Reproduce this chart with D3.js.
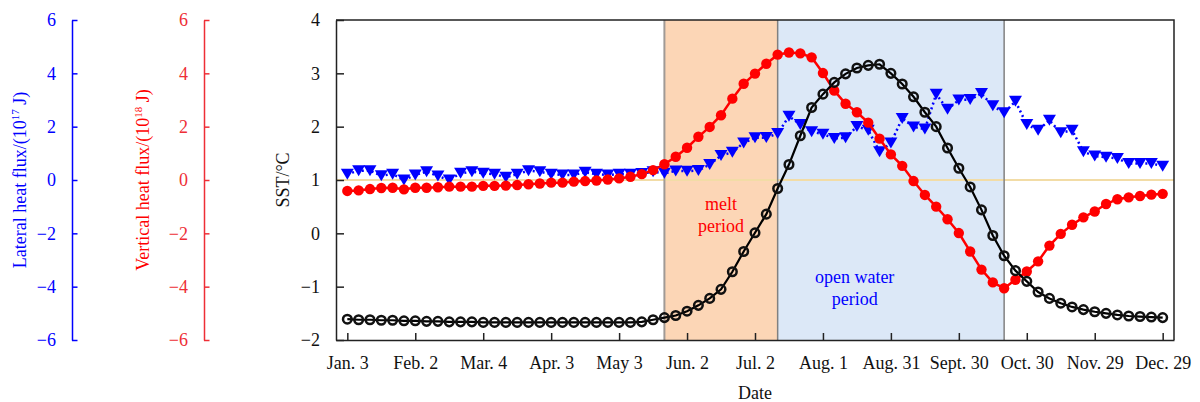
<!DOCTYPE html>
<html>
<head>
<meta charset="utf-8">
<script src="https://cdn.jsdelivr.net/npm/d3@7"></script>
<style>
  body { margin: 0; background: #fff; }
  svg { display: block; }
  text { font-family: "Liberation Serif", "Times New Roman", serif; }
</style>
</head>
<body>
<svg id="chart" width="1200" height="402"></svg>
<script>
// Five-day samples through the year (day of year)
const days = d3.range(3, 364, 5);

// Month tick positions (day of year) and their labels
const tickDays = [3, 33, 63, 93, 123, 153, 183, 213, 243, 273, 303, 333, 363];
const tickLabels = ["Jan. 3", "Feb. 2", "Mar. 4", "Apr. 3", "May 3", "Jun. 2", "Jul. 2",
                    "Aug. 1", "Aug. 31", "Sept. 30", "Oct. 30", "Nov. 29", "Dec. 29"];

// Axis tick values
const sstTicks = [-2, -1, 0, 1, 2, 3, 4];
const fluxTicks = [-6, -4, -2, 0, 2, 4, 6];

// Sea surface temperature, °C
const sst = [
  -1.61, -1.62, -1.62, -1.63, -1.63, -1.64, -1.64, -1.65, -1.65, -1.66,
  -1.66, -1.66, -1.67, -1.67, -1.67, -1.67, -1.67, -1.67, -1.67, -1.67,
  -1.67, -1.67, -1.67, -1.67, -1.67, -1.67, -1.66, -1.62, -1.58, -1.54,
  -1.46, -1.35, -1.22, -1.05, -0.72, -0.34, 0.01, 0.36, 0.84, 1.29,
  1.83, 2.36, 2.61, 2.83, 2.99, 3.10, 3.15, 3.17, 3.00, 2.80,
  2.56, 2.27, 2.00, 1.60, 1.22, 0.87, 0.44, -0.04, -0.42, -0.70,
  -0.90, -1.10, -1.22, -1.31, -1.38, -1.43, -1.47, -1.50, -1.53, -1.55,
  -1.56, -1.57, -1.58
];

// Vertical heat flux, 10^18 J
const verticalFlux = [
  -0.41, -0.39, -0.34, -0.30, -0.29, -0.35, -0.29, -0.29, -0.27, -0.25,
  -0.25, -0.25, -0.22, -0.22, -0.21, -0.19, -0.16, -0.13, -0.10, -0.10,
  -0.06, -0.04, -0.02, 0.02, 0.06, 0.12, 0.22, 0.37, 0.59, 0.87,
  1.21, 1.62, 1.99, 2.43, 3.05, 3.61, 3.99, 4.36, 4.70, 4.78,
  4.75, 4.60, 4.01, 3.35, 2.86, 2.54, 2.15, 1.55, 0.96, 0.53,
  -0.04, -0.56, -1.00, -1.47, -1.99, -2.68, -3.36, -3.84, -4.06, -3.74,
  -3.43, -3.05, -2.46, -2.02, -1.68, -1.40, -1.18, -0.90, -0.72, -0.65,
  -0.60, -0.55, -0.52
];

// Lateral heat flux, 10^17 J
const lateralFlux = [
  0.22, 0.35, 0.35, 0.16, 0.22, 0.00, 0.19, 0.31, 0.15, 0.00,
  0.25, 0.31, 0.25, 0.22, 0.10, 0.22, 0.35, 0.31, 0.22, 0.19,
  0.19, 0.29, 0.22, 0.19, 0.22, 0.22, 0.24, 0.31, 0.25, 0.34,
  0.33, 0.36, 0.58, 0.92, 1.04, 1.39, 1.58, 1.59, 1.74, 2.39,
  2.08, 1.81, 1.72, 1.56, 1.58, 2.01, 1.87, 1.06, 1.39, 2.31,
  1.99, 1.91, 3.22, 2.65, 3.00, 3.02, 3.24, 2.78, 2.52, 2.95,
  2.08, 1.87, 2.24, 1.77, 1.87, 1.06, 0.90, 0.85, 0.81, 0.62,
  0.62, 0.62, 0.52
];

// Period boundaries (day of year)
const meltPeriod = [143, 193];
const openWaterPeriod = [193, 293];

const svg = d3.select("#chart");
const plotLeft = 336, plotRight = 1174, plotTop = 20, plotBottom = 340;

const x = d3.scaleLinear().domain([-2, 368]).range([plotLeft, plotRight]);
const ySST = d3.scaleLinear().domain([-2, 4]).range([plotBottom, plotTop]);
const yFlux = d3.scaleLinear().domain([-6, 6]).range([plotBottom, plotTop]);

const fontSize = 18;
const serif = "'Liberation Serif', 'Times New Roman', serif";
const intFormat = d3.format("d");

// Shaded periods
svg.append("rect")
  .attr("x", x(meltPeriod[0])).attr("y", plotTop)
  .attr("width", x(meltPeriod[1]) - x(meltPeriod[0])).attr("height", plotBottom - plotTop)
  .attr("fill", "#fcd6b6");
svg.append("rect")
  .attr("x", x(openWaterPeriod[0])).attr("y", plotTop)
  .attr("width", x(openWaterPeriod[1]) - x(openWaterPeriod[0])).attr("height", plotBottom - plotTop)
  .attr("fill", "#dce8f7");

// Zero-flux reference line
svg.append("line")
  .attr("x1", plotLeft).attr("x2", plotRight)
  .attr("y1", yFlux(0)).attr("y2", yFlux(0))
  .attr("stroke", "#f2dca6").attr("stroke-width", 2);

// Period boundary lines
[meltPeriod[0], meltPeriod[1], openWaterPeriod[1]].forEach((d, i) => {
  svg.append("line")
    .attr("x1", x(d)).attr("x2", x(d))
    .attr("y1", plotTop).attr("y2", plotBottom)
    .attr("stroke", i === 0 ? "#a09a96" : "#808080")
    .attr("stroke-width", i === 0 ? 2 : 1.5);
});

// Period labels
const melt = svg.append("text").attr("fill", "#ff0000").attr("font-size", fontSize)
  .attr("text-anchor", "middle");
melt.append("tspan").attr("x", x(168)).attr("y", 210).text("melt");
melt.append("tspan").attr("x", x(168)).attr("y", 232).text("period");
const ow = svg.append("text").attr("fill", "#0000ff").attr("font-size", fontSize)
  .attr("text-anchor", "middle");
ow.append("tspan").attr("x", x(227)).attr("y", 283).text("open water");
ow.append("tspan").attr("x", x(227)).attr("y", 305).text("period");

// Lateral heat flux: dotted line with downward triangles
const lateralLine = d3.line().x((d, i) => x(days[i])).y(d => yFlux(d));
svg.append("path").datum(lateralFlux)
  .attr("d", lateralLine)
  .attr("fill", "none").attr("stroke", "#0000ff")
  .attr("stroke-width", 2.5).attr("stroke-dasharray", "2,3");
const triW = 13, triH = 11;
svg.append("g").selectAll("path").data(lateralFlux).join("path")
  .attr("transform", (d, i) => `translate(${x(days[i])},${yFlux(d)})`)
  .attr("d", `M${-triW / 2},${-triH / 2}L${triW / 2},${-triH / 2}L0,${triH / 2}Z`)
  .attr("fill", "#0000ff");

// Vertical heat flux: solid red line with filled circles
const verticalLine = d3.line().x((d, i) => x(days[i])).y(d => yFlux(d));
svg.append("path").datum(verticalFlux)
  .attr("d", verticalLine)
  .attr("fill", "none").attr("stroke", "#ff0000").attr("stroke-width", 2.5);
svg.append("g").selectAll("circle").data(verticalFlux).join("circle")
  .attr("cx", (d, i) => x(days[i])).attr("cy", d => yFlux(d))
  .attr("r", 5.2).attr("fill", "#ff0000");

// SST: solid black line with open circles
const sstLine = d3.line().x((d, i) => x(days[i])).y(d => ySST(d));
svg.append("path").datum(sst)
  .attr("d", sstLine)
  .attr("fill", "none").attr("stroke", "#000").attr("stroke-width", 2.2);
svg.append("g").selectAll("circle").data(sst).join("circle")
  .attr("cx", (d, i) => x(days[i])).attr("cy", d => ySST(d))
  .attr("r", 4.3).attr("fill", "none").attr("stroke", "#111").attr("stroke-width", 2.5);

// Plot frame (top and right)
svg.append("path")
  .attr("d", `M${plotLeft},${plotTop}H${plotRight}V${plotBottom}`)
  .attr("fill", "none").attr("stroke", "#222").attr("stroke-width", 1.5);

// SST axis
const sstAxis = svg.append("g").attr("transform", `translate(${plotLeft},0)`)
  .call(d3.axisLeft(ySST).tickValues(sstTicks).tickFormat(intFormat)
    .tickSizeInner(-8).tickSizeOuter(0).tickPadding(16));
sstAxis.attr("font-family", serif).attr("font-size", fontSize);
sstAxis.selectAll("text").attr("fill", "#111");
sstAxis.selectAll("line,path").attr("stroke", "#222").attr("stroke-width", 1.5);

// Date axis
const xAxis = svg.append("g").attr("transform", `translate(0,${plotBottom})`)
  .call(d3.axisBottom(x).tickValues(tickDays)
    .tickFormat((d, i) => tickLabels[i])
    .tickSizeInner(-7).tickSizeOuter(0).tickPadding(16));
xAxis.attr("font-family", serif).attr("font-size", fontSize);
xAxis.selectAll("text").attr("fill", "#111");
xAxis.selectAll("line,path").attr("stroke", "#222").attr("stroke-width", 1.5);

// Lateral and vertical heat flux axes
function fluxAxis(xPos, color) {
  const g = svg.append("g").attr("transform", `translate(${xPos},0)`)
    .call(d3.axisLeft(yFlux).tickValues(fluxTicks).tickFormat(intFormat)
      .tickSizeInner(-5.5).tickSizeOuter(0).tickPadding(16));
  g.attr("font-family", serif).attr("font-size", fontSize);
  g.selectAll("text").attr("fill", color);
  g.selectAll("line,path").attr("stroke", color).attr("stroke-width", 1.5);
}
fluxAxis(72, "#0000ff");
fluxAxis(204, "#ee2e36");

// Axis titles
function title(xPos, yPos, color, parts) {
  const t = svg.append("text")
    .attr("transform", `translate(${xPos},${yPos}) rotate(-90)`)
    .attr("text-anchor", "middle").attr("font-size", fontSize).attr("fill", color);
  parts.forEach(p => {
    const s = t.append("tspan").text(p.text);
    if (p.sup) s.attr("font-size", 11).attr("dy", -7);
    if (p.after) s.attr("dy", 7);
  });
}
title(26, 180, "#0000ff", [
  { text: "Lateral heat flux/(10" }, { text: "17", sup: true }, { text: " J)", after: true }
]);
title(149, 180, "#ff0000", [
  { text: "Vertical heat flux/(10" }, { text: "18", sup: true }, { text: " J)", after: true }
]);
title(289, 180, "#111", [{ text: "SST/°C" }]);

svg.append("text").attr("x", (plotLeft + plotRight) / 2).attr("y", 399)
  .attr("text-anchor", "middle").attr("font-size", fontSize).attr("fill", "#111")
  .text("Date");
</script>
</body>
</html>
